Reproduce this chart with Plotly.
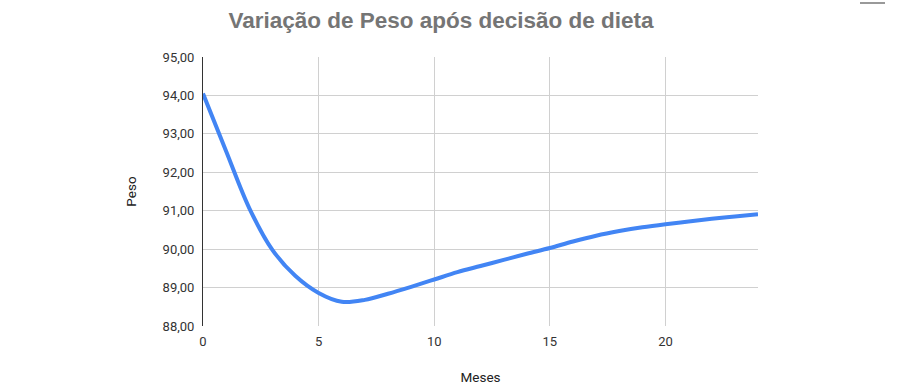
import plotly.graph_objects as go

meses = list(range(0, 25))
peso = [94.05, 92.55, 91.07, 89.98, 89.3, 88.86, 88.63, 88.68, 88.84, 89.02,
        89.21, 89.4, 89.56, 89.72, 89.88, 90.03, 90.2, 90.35, 90.47, 90.57,
        90.65, 90.72, 90.79, 90.85, 90.91]
y_ticks = [88, 89, 90, 91, 92, 93, 94, 95]
x_ticks = [0, 5, 10, 15, 20]

fig = go.Figure()
fig.add_trace(go.Scatter(
    x=meses, y=peso, mode="lines",
    line=dict(color="#4285F4", width=4, shape="spline", smoothing=1.0),
    hoverinfo="x+y", showlegend=False,
))

L, R, T, B = 203, 142, 57, 64
W, H = 900, 390
pw, ph = W - L - R, H - T - B

fig.update_layout(
    width=W, height=H,
    margin=dict(l=L, r=R, t=T, b=B, pad=0, autoexpand=False),
    paper_bgcolor="white", plot_bgcolor="white",
    separators=",.",
    font=dict(family="Roboto, Liberation Sans, Arial, sans-serif", size=13, color="#222"),
    title=dict(text="<b>Variação de Peso após decisão de dieta</b>",
               x=441 / W, xanchor="center", y=1 - 20 / H, yanchor="middle",
               font=dict(family="Liberation Sans, Arial, sans-serif", size=22.5, color="#757575")),
    xaxis=dict(range=[0, 24], tickvals=x_ticks, showgrid=True, gridcolor="#d0d0d0",
               gridwidth=1, zeroline=False, showline=False, ticks="",
               ticklabelstandoff=6, automargin=False,
               tickfont=dict(size=13, color="#333"),
               title=dict(text="Meses", font=dict(size=13.5, color="#222"), standoff=24)),
    yaxis=dict(range=[88, 95], tickvals=y_ticks, tickformat=".2f", showgrid=True,
               gridcolor="#d0d0d0", gridwidth=1, zeroline=False, showline=True,
               linecolor="#333", linewidth=1, ticks="", ticklabelstandoff=5,
               automargin=False,
               tickfont=dict(size=13, color="#333"),
               title=dict(text="Peso", font=dict(size=13.5, color="#222"), standoff=22)),
)

fig.add_shape(type="line", xref="paper", yref="paper",
              x0=(860 - L) / pw, x1=(885 - L) / pw,
              y0=(H - B - 3) / ph, y1=(H - B - 3) / ph,
              line=dict(color="#999", width=2))

fig.write_html("out.html", config={"displayModeBar": False},
               post_script="document.body.style.margin='0';")
